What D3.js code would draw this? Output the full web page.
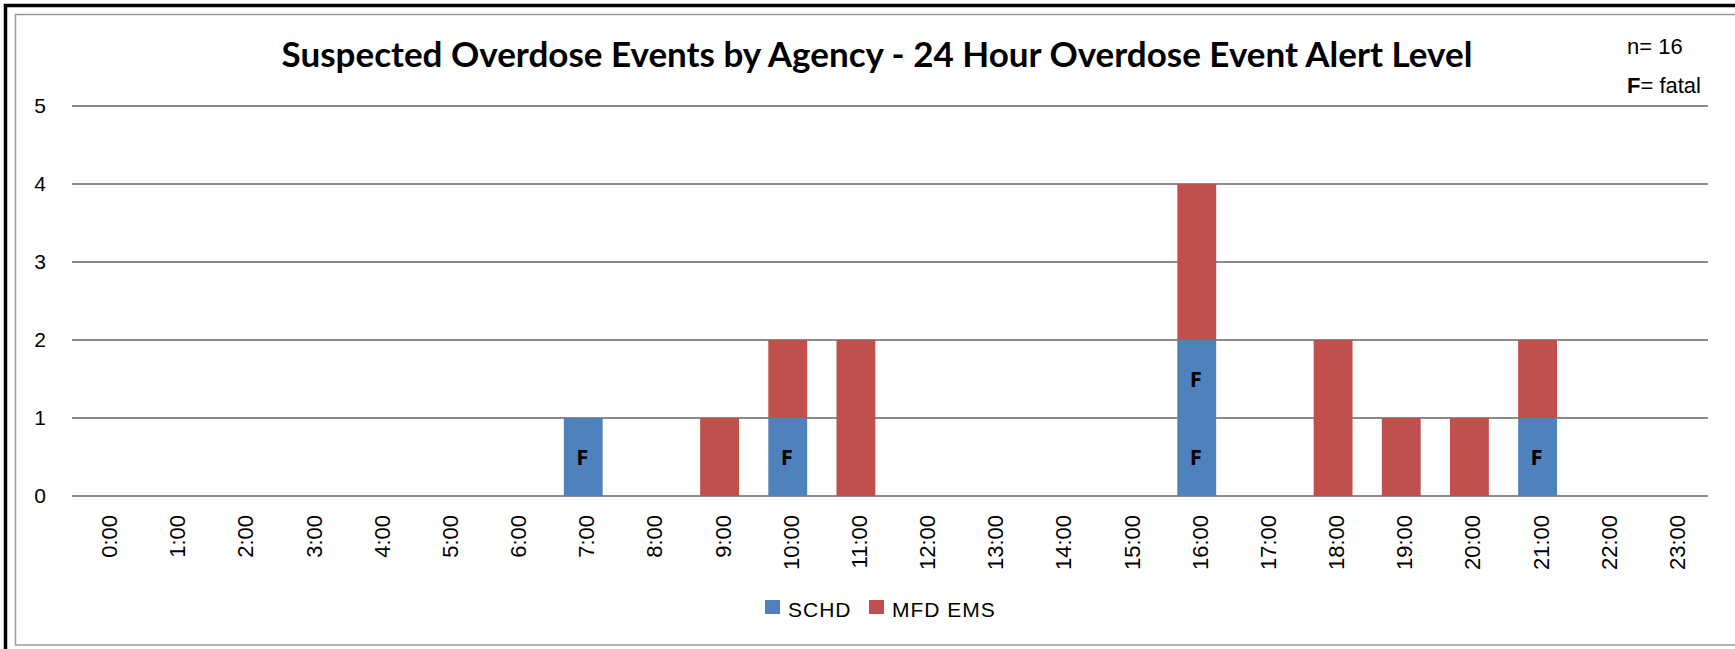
<!DOCTYPE html>
<html lang="en">
<head>
    <meta charset="UTF-8">
    <title>Suspected Overdose Events by Agency</title>
    <style>
        body { margin: 0; background: #fff; }
        .axis text { font-family: "Liberation Sans", Arial, sans-serif; fill: #000; }
        .grid line { stroke: #8c8c8c; stroke-width: 2; shape-rendering: crispEdges; }
        .fatal { font-family: "Open Sans", "Liberation Sans", sans-serif; font-weight: bold; font-size: 22px; text-anchor: middle; }
    </style>
</head>
<body>
<script src="https://d3js.org/d3.v7.min.js"></script>
<script>
    var width = 1735;
    var height = 649;
    // plot area
    var padding = { left: 72, right: 27, top: 106, bottom: 153 };

    var hours = ['0:00', '1:00', '2:00', '3:00', '4:00', '5:00', '6:00', '7:00', '8:00', '9:00', '10:00', '11:00',
        '12:00', '13:00', '14:00', '15:00', '16:00', '17:00', '18:00', '19:00', '20:00', '21:00', '22:00', '23:00'];
    var schd = [0, 0, 0, 0, 0, 0, 0, 1, 0, 0, 1, 0, 0, 0, 0, 0, 2, 0, 0, 0, 0, 1, 0, 0];
    var mfdEms = [0, 0, 0, 0, 0, 0, 0, 0, 0, 1, 1, 2, 0, 0, 0, 0, 2, 0, 2, 1, 1, 1, 0, 0];
    // fatal events (all SCHD) per hour
    var fatal = [0, 0, 0, 0, 0, 0, 0, 1, 0, 0, 1, 0, 0, 0, 0, 0, 2, 0, 0, 0, 0, 1, 0, 0];
    var seriesNames = ['SCHD', 'MFD EMS'];
    var colors = ['#4f81bd', '#c0504d'];
    var yTicks = [0, 1, 2, 3, 4, 5];

    var svg = d3.select('body').append('svg').attr('width', width).attr('height', height);

    // frame
    svg.append('rect').attr('x', 5.5).attr('y', 5.5).attr('width', width + 20).attr('height', height + 20)
        .attr('fill', 'none').attr('stroke', '#000').attr('stroke-width', 3.5);
    svg.append('rect').attr('x', 15.5).attr('y', 14.5).attr('width', width + 20).attr('height', 630.5)
        .attr('fill', 'none').attr('stroke', '#9a9a9a').attr('stroke-width', 1.5);

    var plotW = width - padding.left - padding.right;
    var plotH = height - padding.top - padding.bottom;

    var xScale = d3.scaleBand().domain(hours).range([0, plotW]).paddingInner(0.43).paddingOuter(0.215);
    var yScale = d3.scaleLinear().domain([0, 5]).range([plotH, 0]);

    var g = svg.append('g').attr('transform', 'translate(' + padding.left + ',' + padding.top + ')');

    // gridlines
    g.append('g').attr('class', 'grid')
        .selectAll('line').data(yTicks).enter().append('line')
        .attr('x1', 0).attr('x2', plotW)
        .attr('y1', function (d) { return yScale(d); })
        .attr('y2', function (d) { return yScale(d); });

    // y axis labels
    var yAxis = d3.axisLeft(yScale).tickValues(yTicks).tickFormat(d3.format('d')).tickSize(0).tickPadding(26);
    var yg = g.append('g').attr('class', 'axis').call(yAxis);
    yg.select('.domain').remove();
    yg.selectAll('text').style('font-size', '21px');

    // x axis labels (rotated)
    var xAxis = d3.axisBottom(xScale).tickSize(0);
    var xg = g.append('g').attr('class', 'axis').attr('transform', 'translate(0,' + plotH + ')').call(xAxis);
    xg.select('.domain').remove();
    xg.selectAll('text')
        .style('font-size', '22px')
        .attr('text-anchor', 'end')
        .attr('transform', 'translate(0,19) rotate(-90)')
        .attr('x', 0).attr('y', 0).attr('dy', '0.5em');

    // stacked bars
    var rows = hours.map(function (h, i) { return { hour: h, SCHD: schd[i], 'MFD EMS': mfdEms[i] }; });
    var stack = d3.stack().keys(seriesNames)(rows);

    g.selectAll('.layer').data(stack).enter().append('g')
        .attr('class', 'layer')
        .attr('fill', function (d, i) { return colors[i]; })
        .selectAll('rect').data(function (d) { return d; }).enter()
        .filter(function (d) { return d[1] - d[0] > 0; })
        .append('rect')
        .attr('x', function (d) { return xScale(d.data.hour); })
        .attr('y', function (d) { return yScale(d[1]); })
        .attr('width', xScale.bandwidth())
        .attr('height', function (d) { return yScale(d[0]) - yScale(d[1]); });

    // F labels, one per fatal event
    var fatalMarks = [];
    hours.forEach(function (h, i) {
        for (var k = 0; k < fatal[i]; k++) fatalMarks.push({ hour: h, level: k + 0.5 });
    });
    g.selectAll('.fatal').data(fatalMarks).enter().append('text')
        .attr('class', 'fatal')
        .attr('x', function (d) { return xScale(d.hour) + xScale.bandwidth() / 2 - 1; })
        .attr('y', function (d) { return yScale(d.level); })
        .attr('dy', '0.36em')
        .text('F');

    // title
    svg.append('text')
        .attr('x', 877).attr('y', 67)
        .attr('text-anchor', 'middle')
        .style('font-family', 'Lato, "Open Sans", sans-serif')
        .style('font-weight', 'bold')
        .style('font-size', '35px')
        .text('Suspected Overdose Events by Agency - 24 Hour Overdose Event Alert Level');

    // notes
    var note = svg.append('g').style('font-family', '"Liberation Sans", Arial, sans-serif').style('font-size', '22px');
    note.append('text').attr('x', 1627).attr('y', 54).text('n= 16');
    var ft = note.append('text').attr('x', 1627).attr('y', 93);
    ft.append('tspan').style('font-weight', 'bold').text('F');
    ft.append('tspan').text('= fatal');

    // legend
    var legendX = [765, 869];
    var legend = svg.append('g').selectAll('g').data(seriesNames).enter().append('g')
        .attr('transform', function (d, i) { return 'translate(' + legendX[i] + ',600)'; });
    legend.append('rect').attr('width', 15).attr('height', 14)
        .attr('fill', function (d, i) { return colors[i]; });
    legend.append('text').attr('x', 23).attr('y', 17)
        .style('font-family', '"Liberation Sans", Arial, sans-serif')
        .style('font-size', '21px')
        .style('letter-spacing', '1px')
        .text(function (d) { return d; });
</script>
</body>
</html>
